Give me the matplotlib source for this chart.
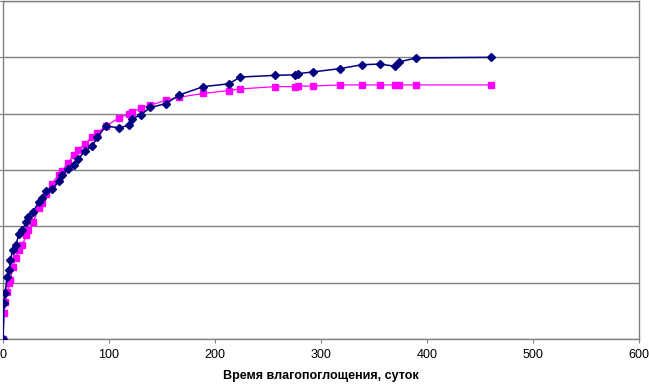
import matplotlib.pyplot as plt

# days of water absorption (shared by both series)
days = [0, 1, 2, 4, 6, 7, 9, 12, 15, 18, 22, 24, 28, 34, 37, 41, 46, 53, 56, 61,
        67, 71, 77, 84, 89, 97, 109, 119, 122, 130, 139, 154, 166, 189, 213, 224,
        257, 275, 278, 292, 318, 339, 356, 370, 374, 390, 460]

series_navy = [0, 0.64, 0.81, 1.10, 1.22, 1.40, 1.58, 1.66, 1.86, 1.93, 2.07, 2.16,
               2.25, 2.44, 2.51, 2.62, 2.66, 2.80, 2.91, 3.02, 3.09, 3.19, 3.33, 3.42,
               3.58, 3.78, 3.75, 3.79, 3.91, 3.98, 4.11, 4.18, 4.33, 4.48, 4.53, 4.65,
               4.68, 4.69, 4.71, 4.74, 4.80, 4.87, 4.88, 4.84, 4.92, 4.99, 5.00]

series_magenta = [0, 0.46, 0.65, 0.83, 0.99, 1.04, 1.27, 1.43, 1.58, 1.66, 1.84, 1.93,
                  2.07, 2.32, 2.41, 2.58, 2.76, 2.92, 2.99, 3.13, 3.26, 3.35, 3.46, 3.58,
                  3.66, 3.78, 3.92, 4.00, 4.03, 4.10, 4.15, 4.24, 4.29, 4.36, 4.41, 4.44,
                  4.48, 4.48, 4.49, 4.49, 4.51, 4.51, 4.51, 4.51, 4.51, 4.51, 4.51]

x_ticks = [0, 100, 200, 300, 400, 500, 600]
y_ticks = [0, 1, 2, 3, 4, 5, 6]

plt.rcParams['font.family'] = ['Liberation Sans', 'DejaVu Sans']

fig = plt.figure(figsize=(6.49, 3.84), dpi=100)
ax = fig.add_axes([3 / 649, 45 / 384, 636 / 649, 338 / 384])

ax.plot(days, series_magenta, color='#FF00FF', lw=0.9, marker='s', ms=4,
        mec='#FF00FF', mfc='#FF00FF', zorder=3)
ax.plot(days, series_navy, color='#000080', lw=1.1, marker='D', ms=3.6,
        mec='#000080', mfc='#000080', zorder=4)

ax.set_xlim(0, 600)
ax.set_ylim(0, 6)
ax.set_xticks(x_ticks)
ax.set_yticks(y_ticks)
ax.set_yticklabels([])
ax.grid(axis='y', color='#808080', lw=1)
ax.set_axisbelow(True)

for side in ['left', 'bottom', 'right', 'top']:
    ax.spines[side].set_color('#808080')
    ax.spines[side].set_linewidth(1)

ax.tick_params(axis='both', direction='out', length=3, color='#808080', labelsize=9)
ax.tick_params(axis='x', pad=4)
ax.set_xlabel('Время влагопоглощения, суток', fontsize=9, fontweight='bold', labelpad=7)

fig.savefig('out.png', dpi=100)
plt.close(fig)
